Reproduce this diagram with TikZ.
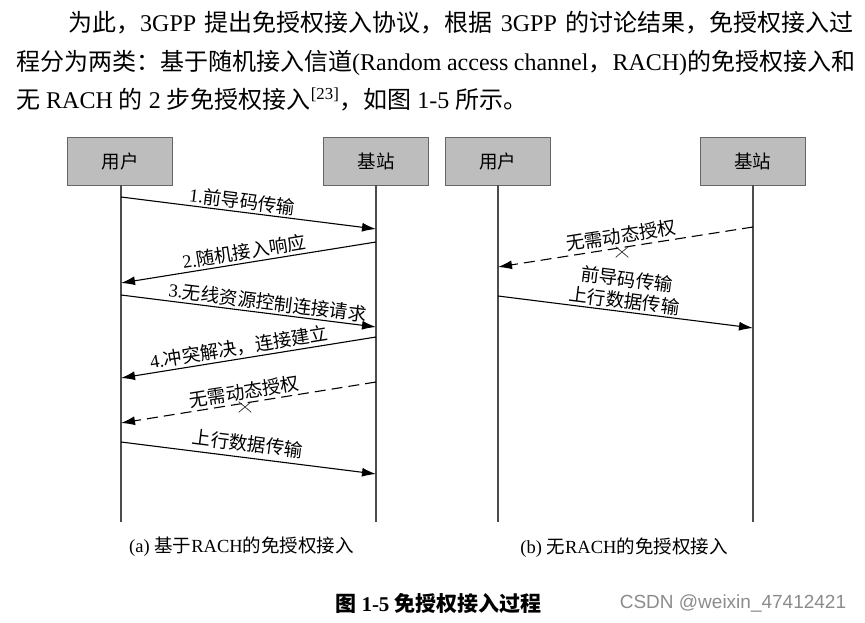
\documentclass[tikz,border=0pt]{standalone}
\usepackage{fontspec}
\setmainfont{Liberation Serif}
\newfontfamily\cjk{Noto Sans CJK SC}
\newfontfamily\wmfont{Liberation Sans}
\usetikzlibrary{arrows.meta,shapes.misc}
\newcommand\zh[1]{{\cjk #1}}
\begin{document}
\begin{tikzpicture}[x=1pt,y=-1pt,
  actor/.style={draw=black!60, fill=black!26, minimum width=105pt, minimum height=48pt, inner sep=0pt, font=\cjk\fontsize{18.5}{18.5}\selectfont},
  life/.style={draw=black!70, line width=1.1pt},
  msg/.style={line width=1.1pt, -{Latex[length=14pt,width=9pt]}},
  dmsg/.style={msg, dash pattern=on 11pt off 6pt},
  lab/.style={sloped, above=2pt, inner sep=0pt, font=\fontsize{18.5}{18.5}\selectfont},
  xmark/.style={cross out, draw=black!80, minimum width=12pt, minimum height=10pt, inner sep=0pt, line width=0.7pt},
  para/.style={anchor=base west, inner sep=0pt, font=\fontsize{24}{24}\selectfont},
  captext/.style={inner sep=0pt, font=\fontsize{18.5}{18.5}\selectfont}
]
\useasboundingbox (0,0) rectangle (865,623);
\fill[white] (0,0) rectangle (865,623);

% paragraph
\node[para] (p1) at (68,32) {\makebox[785pt][s]{\zh{为此，}3GPP \zh{提出免授权接入协议，根据} 3GPP \zh{的讨论结果，免授权接入过}}};
\node[para] (p2) at (16,71) {\makebox[839pt][s]{\zh{程分为两类：基于随机接入信道}(Random access channel\zh{，}RACH)\zh{的免授权接入和}}};
\node[para] (p3) at (16,109) {\zh{无} RACH \zh{的} 2 \zh{步免授权接入}\textsuperscript{[23]}\zh{，如图} 1-5 \zh{所示。}};

% actors (a)
\node[actor] (ua) at (120,161) {用户};
\node[actor] (ba) at (376,161) {基站};
% actors (b)
\node[actor] (ub) at (497.5,161) {用户};
\node[actor] (bb) at (752.5,161) {基站};

% lifeline ends
\coordinate (uaE) at (121,522);
\coordinate (baE) at (376,522);
\coordinate (ubE) at (498,522);
\coordinate (bbE) at (753,522);
\draw[life] (ua.south -| uaE) -- (uaE);
\draw[life] (ba.south -| baE) -- (baE);
\draw[life] (ub.south -| ubE) -- (ubE);
\draw[life] (bb.south -| bbE) -- (bbE);

% message points (a)
\coordinate (m1s) at (121,197); \coordinate (m1e) at (376,229);
\coordinate (m2s) at (376,242); \coordinate (m2e) at (121,283);
\coordinate (m3s) at (121,295); \coordinate (m3e) at (376,327);
\coordinate (m4s) at (376,337); \coordinate (m4e) at (121,378);
\coordinate (m5s) at (376,382); \coordinate (m5e) at (121,423);
\coordinate (m6s) at (121,442); \coordinate (m6e) at (376,474);
% message points (b)
\coordinate (n1s) at (753,227); \coordinate (n1e) at (498,267);
\coordinate (n2s) at (498,296); \coordinate (n2e) at (753,328);

\draw[msg] (m1s) -- node[lab, pos=0.47, above=0pt] (l1) {1.\zh{前导码传输}} (m1e);
\draw[msg] (m2s) -- node[lab, pos=0.51] (l2) {2.\zh{随机接入响应}} (m2e);
\draw[msg] (m3s) -- node[lab, pos=0.57] (l3) {3.\zh{无线资源控制连接请求}} (m3e);
\draw[msg] (m4s) -- node[lab, pos=0.53] (l4) {4.\zh{冲突解决，连接建立}} (m4e);
\draw[dmsg] (m5s) -- node[lab, pos=0.51, above=0pt] (l5) {\zh{无需动态授权}} (m5e);
\draw[msg] (m6s) -- node[lab, pos=0.49, above=3pt] (l6) {\zh{上行数据传输}} (m6e);
\node[xmark] (x5) at (245,407) {};

\draw[dmsg] (n1s) -- node[lab, pos=0.51, above=1pt] (k1) {\zh{无需动态授权}} (n1e);
\draw[msg] (n2s) -- node[lab, pos=0.49, above=0pt, align=center] (k2) {\zh{前导码传输}\\[3pt]\zh{上行数据传输}} (n2e);
\node[xmark] (x1) at (622,252) {};

% captions
\node[captext] (capa) at (241.5,547) {(a) \zh{基于}RACH\zh{的免授权接入}};
\node[captext] (capb) at (624,548) {(b) \zh{无}RACH\zh{的免授权接入}};
\node[inner sep=0pt, font=\fontsize{21}{21}\selectfont\bfseries] (title) at (438.5,603) {\zh{图} 1-5 \zh{免授权接入过程}};
\node[inner sep=0pt, text=black!45, font=\wmfont\fontsize{19}{19}\selectfont] (wm) at (733,603) {CSDN @weixin\_47412421};
\end{tikzpicture}
\end{document}
